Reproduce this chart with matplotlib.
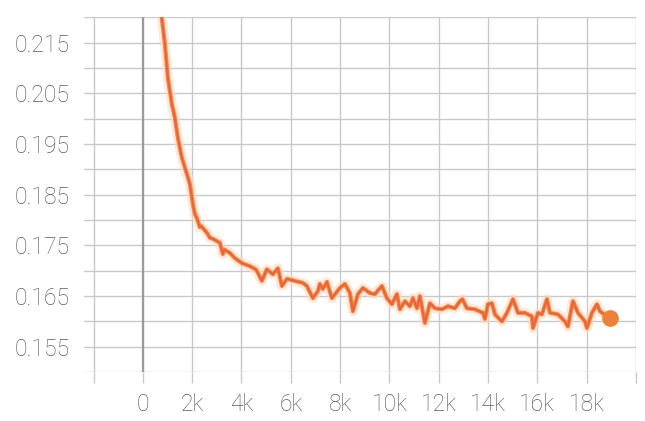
import matplotlib.pyplot as plt
import numpy as np

# ---- data (step, loss)
steps = [700, 771, 892, 1014, 1176, 1298, 1420, 1582, 1785, 1907, 2028, 2110, 2190,
         2312, 2370, 2596, 2718, 2840, 3124, 3245, 3300, 3530, 3732, 4016, 4340,
         4600, 4828, 5030, 5274, 5477, 5640, 5842, 6166, 6491, 6650, 6897, 7100,
         7181, 7300, 7465, 7667, 7992, 8195, 8398, 8520, 8722, 8925, 9209, 9412,
         9696, 9899, 10102, 10304, 10426, 10629, 10832, 10954, 11116, 11237, 11440,
         11643, 11846, 12130, 12373, 12657, 12860, 12960, 13144, 13469, 13793,
         13874, 13996, 14158, 14280, 14564, 14767, 15011, 15214, 15497, 15781,
         15822, 16025, 16187, 16390, 16511, 16836, 17120, 17241, 17444, 17647,
         17931, 18012, 18215, 18418, 18540, 18824, 18945]
loss = [0.2215, 0.2197, 0.2148, 0.2081, 0.2029, 0.2002, 0.1962, 0.1923, 0.1891,
        0.1871, 0.1832, 0.1812, 0.1804, 0.1786, 0.1788, 0.1775, 0.1765, 0.1763,
        0.1755, 0.1733, 0.1742, 0.1735, 0.1725, 0.1715, 0.1709, 0.1702, 0.1680,
        0.1703, 0.1693, 0.1705, 0.1670, 0.1684, 0.1680, 0.1676, 0.1670, 0.1646,
        0.1660, 0.1674, 0.1664, 0.1678, 0.1646, 0.1666, 0.1674, 0.1656, 0.1620,
        0.1654, 0.1666, 0.1656, 0.1654, 0.1670, 0.1646, 0.1634, 0.1654, 0.1624,
        0.1640, 0.1630, 0.1646, 0.1626, 0.1650, 0.1597, 0.1636, 0.1626, 0.1624,
        0.1630, 0.1626, 0.1640, 0.1644, 0.1626, 0.1624, 0.1617, 0.1605, 0.1634,
        0.1636, 0.1614, 0.1600, 0.1617, 0.1644, 0.1617, 0.1617, 0.1610, 0.1587,
        0.1617, 0.1614, 0.1644, 0.1617, 0.1614, 0.1600, 0.1590, 0.1640, 0.1617,
        0.1600, 0.1587, 0.1617, 0.1634, 0.1620, 0.1610, 0.1606]

x_ticks = list(range(-2000, 20001, 2000))
x_labels = ['', '0', '2k', '4k', '6k', '8k', '10k', '12k', '14k', '16k', '18k', '']
y_labels = [0.155, 0.165, 0.175, 0.185, 0.195, 0.205, 0.215]

plt.rcParams['font.family'] = ['Roboto', 'DejaVu Sans']

fig = plt.figure(figsize=(6.45, 4.21), dpi=100)
ax = fig.add_axes([0.130, 0.116, 0.856, 0.843])

grid_c = '#c9c9c9'
# horizontal grid every 0.005
for y in np.arange(0.150, 0.2201, 0.005):
    ax.axhline(y, color=grid_c, lw=1.0, zorder=0)
for x in x_ticks:
    ax.axvline(x, color=grid_c, lw=1.0, zorder=0)
ax.axvline(0, color='#9a9a9a', lw=1.6, zorder=0)

# curve: faint halo + orange line + end dot
ax.plot(steps, loss, color='#fcd9c0', lw=7, alpha=0.6, solid_joinstyle='round', zorder=2)
ax.plot(steps, loss, color='#ef8a3e', lw=3.0, solid_joinstyle='round', zorder=3)
ax.plot(steps, loss, color='#f0603f', lw=1.4, solid_joinstyle='round', zorder=4)
ax.plot(steps[-1], loss[-1], 'o', color='#f08038', ms=11, zorder=5)

ax.set_xlim(-2393, 20000)
ax.set_ylim(0.150, 0.220)
ax.set_xticks(x_ticks)
ax.set_xticklabels(x_labels)
ax.set_yticks(y_labels)
ax.set_yticklabels([f'{v:.3f}' for v in y_labels])
ax.tick_params(axis='x', length=8, color=grid_c, width=1.0, pad=7,
               labelsize=16.5, labelcolor='#5c5c5c')
ax.tick_params(axis='y', length=0, pad=10, labelsize=16.5, labelcolor='#5c5c5c')
for lab in ax.get_xticklabels() + ax.get_yticklabels():
    lab.set_fontweight('light')
for s in ax.spines.values():
    s.set_visible(False)

plt.savefig('out.png', dpi=100)
plt.close()
